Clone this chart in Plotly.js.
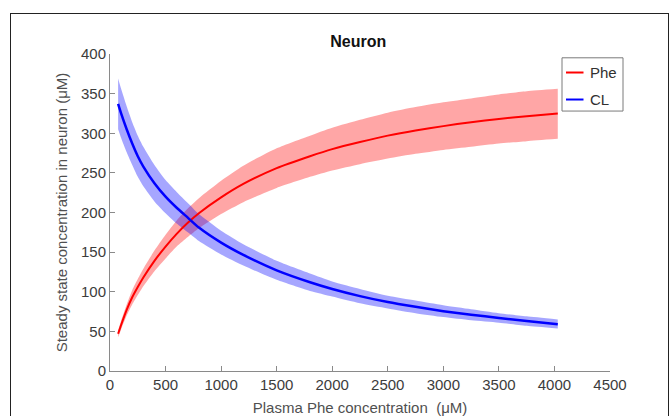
<!DOCTYPE html>
<html>
<head>
<meta charset="utf-8">
<script src="https://cdn.plot.ly/plotly-3.0.1.min.js"></script>
<style>
  html, body { margin: 0; padding: 0; background: #fff; }
  #wrap { position: relative; width: 672px; height: 416px; overflow: hidden; }
  #chart { width: 672px; height: 416px; }
  #frame { position: absolute; left: 10px; top: 13px; width: 659px; height: 430px;
           border: 1.5px solid #222; pointer-events: none; box-sizing: border-box; }
</style>
</head>
<body>
<div id="wrap">
  <div id="chart"></div>
  <div id="frame"></div>
</div>
<script>
// Plasma Phe concentration (uM)
const plasmaPhe = [73, 100, 150, 200, 250, 300, 400, 500, 600, 700, 800, 1000, 1200, 1500, 1800, 2000, 2250, 2500, 2750, 3000, 3250, 3500, 3750, 4030];

// Phe in neuron: mean and band
const pheMean  = [47, 58, 77, 93, 106, 118, 139, 157, 173, 187, 199, 219, 236, 256, 271, 280, 289, 297, 303.5, 309, 314, 318, 321.5, 325];
const pheUpper = [51.5, 63.5, 84, 102, 116, 129, 152, 172, 190, 205, 218, 240, 259, 281, 297, 307, 317, 326, 333, 339, 344, 349, 353, 356];
const pheLower = [42.5, 52.5, 70, 84, 96, 107, 126, 142, 157, 169, 180, 198, 213, 231, 245, 253, 261, 268, 274, 279, 283, 287, 290, 293];

// CL in neuron: mean and band
const clMean  = [337, 325, 305, 287, 271, 258, 237, 220, 206, 193.5, 181, 162, 146.5, 127, 112, 103.5, 94.5, 87, 81, 75.5, 71, 67, 63, 59];
const clUpper = [369, 356, 334, 314, 297, 283, 260, 241, 226, 212, 198, 177, 160, 139, 123, 113, 103.5, 95, 89, 83, 78, 73, 69, 65];
const clLower = [305, 294, 276, 260, 245, 233, 214, 199, 186, 175, 164, 147, 133, 115, 101, 94, 85.5, 79, 73, 68, 64, 61, 57, 53.5];

const xTicks = [0, 500, 1000, 1500, 2000, 2500, 3000, 3500, 4000, 4500];
const yTicks = [0, 50, 100, 150, 200, 250, 300, 350, 400];

const legendNames = ['Phe', 'CL'];
const lineColors = ['#ff0000', '#0000ff'];
const bandColors = ['rgba(255,0,0,0.35)', 'rgba(0,0,255,0.35)'];

function band(upper, lower, color) {
  return [
    { x: plasmaPhe, y: lower, type: 'scatter', mode: 'lines',
      line: { width: 0, shape: 'spline', smoothing: 0.6 }, showlegend: false, hoverinfo: 'skip' },
    { x: plasmaPhe, y: upper, type: 'scatter', mode: 'lines', fill: 'tonexty', fillcolor: color,
      line: { width: 0, shape: 'spline', smoothing: 0.6 }, showlegend: false, hoverinfo: 'skip' }
  ];
}

const traces = [].concat(
  band(pheUpper, pheLower, bandColors[0]),
  band(clUpper, clLower, bandColors[1]),
  [
    { x: plasmaPhe, y: pheMean, type: 'scatter', mode: 'lines', name: legendNames[0],
      line: { color: lineColors[0], width: 2, shape: 'spline', smoothing: 0.6 }, showlegend: false },
    { x: plasmaPhe, y: clMean, type: 'scatter', mode: 'lines', name: legendNames[1],
      line: { color: lineColors[1], width: 2.5, shape: 'spline', smoothing: 0.6 }, showlegend: false }
  ]
);

const axisCommon = {
  showline: true, linecolor: '#8a8a8a', linewidth: 1,
  ticks: 'inside', ticklen: 5, tickcolor: '#8a8a8a', tickwidth: 1,
  showgrid: false, zeroline: false,
  tickfont: { family: 'Liberation Sans, Arial, sans-serif', size: 15, color: '#3c3c3c' }
};

// legend drawn as shapes + annotations in paper coordinates
const legX0 = 0.904, legX1 = 1.026, legY0 = 0.820, legY1 = 0.988;
const legRowY = [0.9416, 0.8564];
const shapes = [
  { type: 'rect', xref: 'paper', yref: 'paper', x0: legX0, x1: legX1, y0: legY0, y1: legY1,
    line: { color: '#7a7a7a', width: 1 }, fillcolor: '#ffffff', layer: 'above' }
];
const annotations = [];
legendNames.forEach((n, i) => {
  shapes.push({ type: 'line', xref: 'paper', yref: 'paper', x0: 0.912, x1: 0.947,
                y0: legRowY[i], y1: legRowY[i], line: { color: lineColors[i], width: 2 }, layer: 'above' });
  annotations.push({ xref: 'paper', yref: 'paper', x: 0.955, y: legRowY[i], xanchor: 'left', yanchor: 'middle',
                     text: n, showarrow: false, font: { size: 15, color: '#303030' } });
});

const layout = {
  width: 672, height: 416,
  margin: { l: 110, r: 62, t: 54, b: 45 },
  paper_bgcolor: '#ffffff', plot_bgcolor: '#ffffff',
  font: { family: 'Liberation Sans, Arial, sans-serif', size: 14, color: '#404040' },
  title: { text: '<b>Neuron</b>', x: 0.533, xanchor: 'center', y: 0.9, yanchor: 'middle',
           font: { size: 16, color: '#111' } },
  xaxis: Object.assign({}, axisCommon, {
    range: [0, 4500], tickvals: xTicks, ticktext: xTicks.map(String),
    title: { text: 'Plasma Phe concentration  (μM)', standoff: 11,
             font: { size: 15, color: '#505050' } }
  }),
  yaxis: Object.assign({}, axisCommon, {
    range: [0, 400], tickvals: yTicks, ticktext: yTicks.map(String),
    title: { text: 'Steady state concentration in neuron (μM)', standoff: 9,
             font: { size: 15, color: '#505050' } }
  }),
  showlegend: false,
  shapes: shapes,
  annotations: annotations
};

Plotly.newPlot('chart', traces, layout, { displayModeBar: false, staticPlot: true });
</script>
</body>
</html>
